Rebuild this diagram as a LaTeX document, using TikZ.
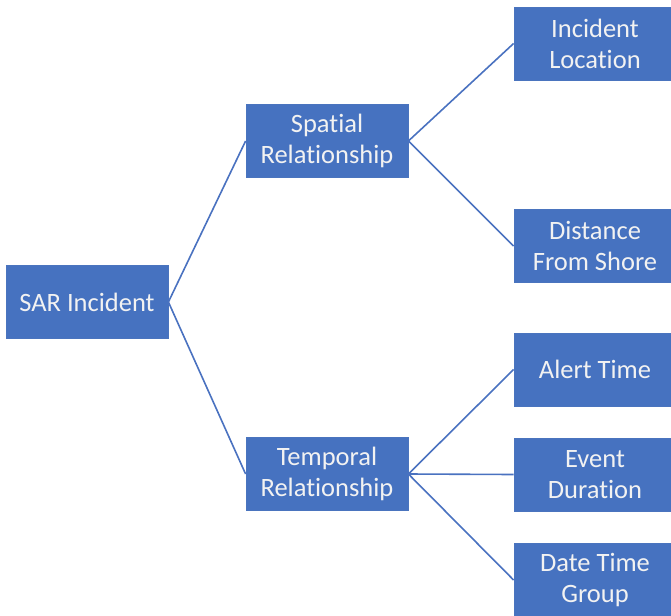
\documentclass[tikz,border=0pt]{standalone}
\usepackage{fontspec}
\setmainfont{Carlito}[Ligatures={NoCommon}]
\definecolor{boxblue}{HTML}{4672C0}
\definecolor{boxedge}{HTML}{4A74BE}
\definecolor{linkblue}{HTML}{4A72C0}
\definecolor{boxtext}{HTML}{F2F2F2}
\begin{document}
\begin{tikzpicture}[x=1pt,y=-1pt,
  box/.style={draw=boxedge,fill=boxblue,line width=0.8pt,minimum width=162pt,minimum height=73pt,
    inner sep=0pt,align=center,text=boxtext,font=\fontsize{26.5}{31}\selectfont},
  link/.style={draw=linkblue,line width=1.6pt}]
\useasboundingbox (0,0) rectangle (671,615);
\node[box] (sar) at (87,302) {SAR Incident};
\node[box] (spa) at (327,141) {Spatial\\Relationship};
\node[box] (tem) at (327,474) {Temporal\\Relationship};
\node[box] (loc) at (595,43.5) {Incident\\Location};
\node[box] (dis) at (595,246) {Distance\\From Shore};
\node[box] (ale) at (595,369.5) {Alert Time};
\node[box] (eve) at (595,474.5) {Event\\Duration};
\node[box] (dat) at (595,580) {Date Time\\Group};
\draw[link] (sar.east) -- (spa.west);
\draw[link] (sar.east) -- (tem.west);
\draw[link] (spa.east) -- (loc.west);
\draw[link] (spa.east) -- (dis.west);
\draw[link] (tem.east) -- (ale.west);
\draw[link] (tem.east) -- (eve.west);
\draw[link] (tem.east) -- (dat.west);
\end{tikzpicture}
\end{document}
